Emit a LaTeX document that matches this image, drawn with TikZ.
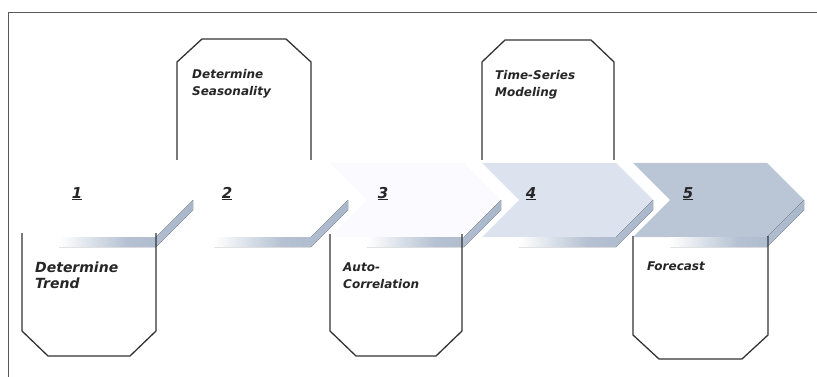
\documentclass[tikz,border=0pt]{standalone}
\usepackage{fontspec}
\setmainfont{DejaVu Sans}
\definecolor{edgecol}{HTML}{A9B7CB}
\definecolor{face4}{HTML}{DCE3EE}
\definecolor{face5}{HTML}{BAC5D5}
\begin{document}
\begin{tikzpicture}[x=1pt, y=-1pt,
    frame/.style={draw=black!65, line width=0.8pt},
    box/.style={draw=black!80, line width=1.3pt, line join=round},
    side/.style={left color=white, right color=edgecol, middle color=edgecol!85, draw=none},
    label/.style={anchor=north west, inner sep=0pt, align=left, text=black!85,
        font=\bfseries\itshape\fontsize{12}{17}\selectfont},
    num/.style={anchor=base, inner sep=0pt, text=black!85,
        font=\bfseries\itshape\fontsize{15}{18}\selectfont}]
    \useasboundingbox (0,0) rectangle (817,377);
    \draw[frame] (8,377) -- (8,12) -- (817,12);

    % chevrons
    \fill[white] (22,163) -- (156,163) -- (193,200) -- (156,237) -- (22,237) -- (59,200) -- cycle;
    \fill[white] (177,163) -- (311,163) -- (348,200) -- (311,237) -- (177,237) -- (214,200) -- cycle;
    \fill[blue!2] (330,163) -- (464,163) -- (501,200) -- (464,237) -- (330,237) -- (367,200) -- cycle;
    \fill[face4] (482,163) -- (616,163) -- (653,200) -- (616,237) -- (482,237) -- (519,200) -- cycle;
    \fill[face5] (633,163) -- (767,163) -- (804,200) -- (767,237) -- (633,237) -- (670,200) -- cycle;
    \fill[side] (59,237) -- (156,237) -- (193,200) -- (193,210) -- (156,247) -- (59,247) -- cycle;
    \fill[side] (214,237) -- (311,237) -- (348,200) -- (348,210) -- (311,247) -- (214,247) -- cycle;
    \fill[side] (367,237) -- (464,237) -- (501,200) -- (501,210) -- (464,247) -- (367,247) -- cycle;
    \fill[side] (519,237) -- (616,237) -- (653,200) -- (653,210) -- (616,247) -- (519,247) -- cycle;
    \fill[side] (670,237) -- (767,237) -- (804,200) -- (804,210) -- (767,247) -- (670,247) -- cycle;

    % boxes
    \draw[box] (22,233) -- (22,331) -- (48,356) -- (130,356) -- (156,331) -- (156,233);
    \draw[box] (177,160) -- (177,62) -- (202,39) -- (286,39) -- (311,62) -- (311,160);
    \draw[box] (330,234) -- (330,331) -- (356,356) -- (436,356) -- (462,331) -- (462,234);
    \draw[box] (482,160) -- (482,62) -- (505,40) -- (591,40) -- (614,62) -- (614,160);
    \draw[box] (633,236) -- (633,335) -- (659,359) -- (742,359) -- (768,335) -- (768,236);

    \node[num] (n1) at (77,198) {\underline{1}};
    \node[num] (n2) at (227,198) {\underline{2}};
    \node[num] (n3) at (383,198) {\underline{3}};
    \node[num] (n4) at (531,198) {\underline{4}};
    \node[num] (n5) at (688,198) {\underline{5}};

    \node[label, font=\bfseries\itshape\fontsize{14}{16}\selectfont] (t1) at (35,262) {Determine\\Trend};
    \node[label] (t2) at (192,69) {Determine\\Seasonality};
    \node[label] (t3) at (343,263) {Auto-\\Correlation};
    \node[label] (t4) at (495,70) {Time-Series\\Modeling};
    \node[label] (t5) at (647,262) {Forecast};
\end{tikzpicture}
\end{document}
